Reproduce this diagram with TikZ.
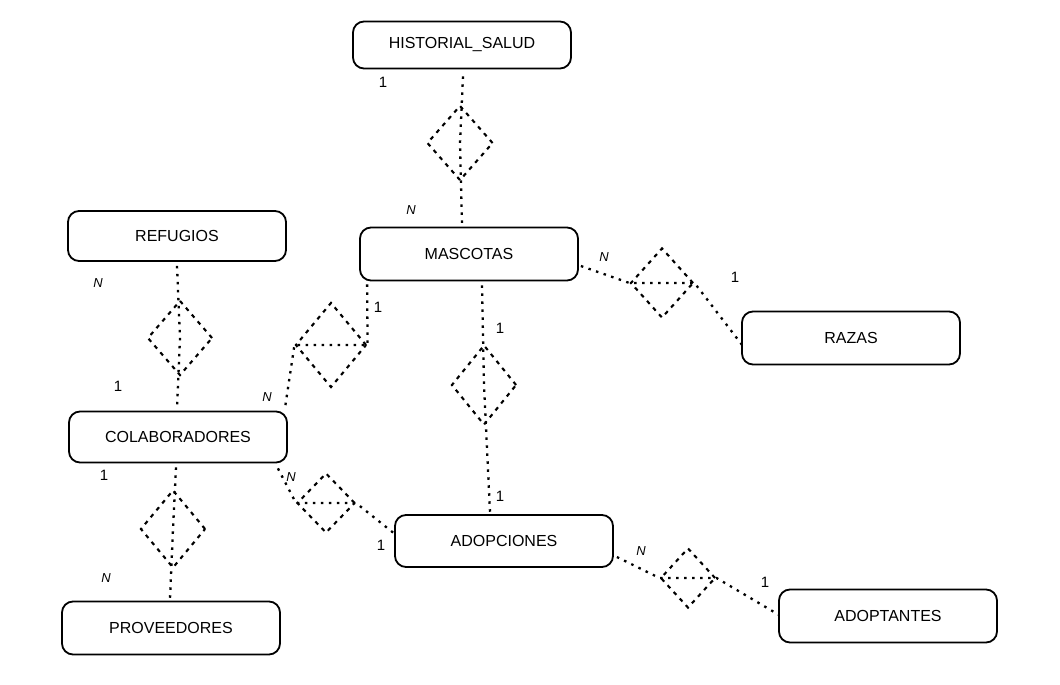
\documentclass[tikz,border=0pt]{standalone}
\usepackage{fontspec}
\setmainfont{Liberation Sans}
\usepackage{tikz}
\usetikzlibrary{positioning}
\usetikzlibrary{calc,shapes.geometric}

\tikzset{
  entity/.style={shape=rectangle,draw,line width=1.8pt,rounded corners=11pt,
    minimum width=218pt,minimum height=51pt,inner sep=0pt,font=\fontsize{16}{18}\selectfont},
  rel/.style={shape=diamond,draw,line width=2.1pt,dash pattern=on 4pt off 5pt,
    inner sep=0pt,aspect=1},
  link/.style={line width=2.3pt,dash pattern=on 2.5pt off 5.5pt},
  card/.style={font=\fontsize{15}{17}\selectfont},
  cardn/.style={font=\itshape\fontsize{13}{15}\selectfont}
}

\begin{document}
\begin{tikzpicture}[x=1pt,y=-1pt]
\useasboundingbox (0,0) rectangle (1060,685);
\path
(462,45) node [entity,minimum height=47pt](hist) {HISTORIAL\_SALUD}
(177,236) node [entity,minimum height=50pt](ref) {REFUGIOS}
(469,254) node [entity,minimum height=53pt](masc) {MASCOTAS}
(851,338) node [entity,minimum height=53pt](raz) {RAZAS}
(178,437) node [entity](col) {COLABORADORES}
(504,541) node [entity,minimum height=52pt](adop) {ADOPCIONES}
(171,628) node [entity,minimum height=53pt](prov) {PROVEEDORES}
(888,616) node [entity,minimum height=53pt](adopt) {ADOPTANTES};
\path
(460,143) node [rel,minimum width=66pt,minimum height=75pt](rh) {}
(180,338) node [rel,minimum width=65pt,minimum height=75pt](rr) {}
(331,345) node [rel,minimum width=71pt,minimum height=85pt](rc) {}
(484,385) node [rel,minimum width=65pt,minimum height=80pt](ra) {}
(326,503) node [rel,minimum width=58pt,minimum height=60pt](rca) {}
(688,578) node [rel,minimum width=55pt,minimum height=60pt](rad) {}
(173,529) node [rel,minimum width=65pt,minimum height=78pt](rp) {}
(662,283) node [rel,minimum width=63pt,minimum height=70pt](rz) {};
% relaciones
\draw [link] ($(hist.south -| rh)+(3,7)$) --(rh.center) --($(masc.north -| rh)+(2,-2)$);
\draw [link] ($(ref.south -| rr)+(-3,4)$) --(rr.center) --($(col.north -| rr)+(-3,-2)$);
\draw [link] ($(masc.south west)+(8,3)$) --(rc.east) --(rc.west) --($(col.north east)+(-3,-2)$);
\draw [link] ($(masc.south -| ra)+(-2,4)$) --(ra.center) --($(adop.north -| ra)+(6,-2)$);
\draw [link] ($(col.south east)+(-10,5)$) --(rca.west) --(rca.east) --($(adop.west)+(2,-6)$);
\draw [link] ($(adop.east)+(3,16)$) --(rad.west) --(rad.east) --($(adopt.west)+(1,-1)$);
\draw [link] ($(col.south -| rp)+(3,4)$) --(rp.center) --($(prov.north -| rp)+(-3,-2)$);
\draw [link] ($(masc.east)+(2,12)$) --(rz.west) --(rz.east) --($(raz.west)+(1,7)$);
% cardinalidades
\node [card](c1) at (383,82) {1};
\node [cardn](c2) at (411,210) {N};
\node [cardn](c3) at (98,283) {N};
\node [card](c4) at (118,386) {1};
\node [card](c5) at (378,307) {1};
\node [cardn](c6) at (267,397) {N};
\node [card](c7) at (500,328) {1};
\node [card](c8) at (500,496) {1};
\node [cardn](c9) at (291,477) {N};
\node [card](c10) at (381,545) {1};
\node [cardn](c11) at (641,551) {N};
\node [card](c12) at (765,582) {1};
\node [card](c13) at (104,475) {1};
\node [cardn](c14) at (106,578) {N};
\node [cardn](c15) at (604,257) {N};
\node [card](c16) at (735,277) {1};

\end{tikzpicture}
\end{document}
